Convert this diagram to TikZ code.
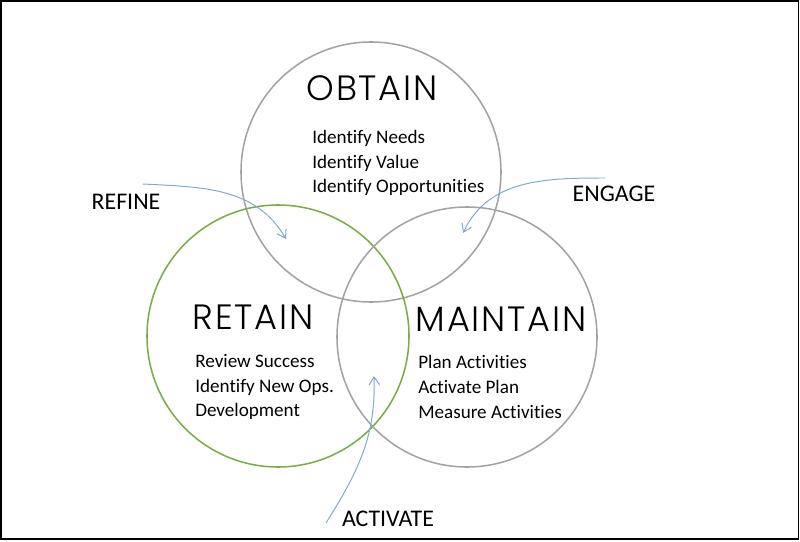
\documentclass[tikz,border=0pt]{standalone}
\usepackage{fontspec}
\setmainfont{Carlito}[Ligatures={NoCommon}]
\newfontfamily\ttlfont{Poppins}[UprightFont=* Light, LetterSpace=5]
\usepackage{tikz}
\usetikzlibrary{arrows.meta}
\definecolor{ringgray}{HTML}{A3A3A3}
\definecolor{ringgreen}{HTML}{79AD45}
\definecolor{flowblue}{HTML}{7FA8D8}

\begin{document}
\begin{tikzpicture}[
  ring/.style={draw=ringgray, line width=1.1pt},
  ttl/.style={font=\ttlfont\fontsize{25}{28}\selectfont, inner sep=0pt},
  items/.style={font=\fontsize{13.6}{17.7}\selectfont, align=left, anchor=west, inner sep=0pt},
  lbl/.style={font=\fontsize{17}{19}\selectfont, inner sep=0pt},
  flowarr/.style={-{Straight Barb[length=2mm,width=2.6mm]}, line width=0.7pt, color=flowblue},
]
\useasboundingbox (0,0) rectangle (20,13.525);
\draw[line width=1.2pt] (0.02,0.05) rectangle (19.96,13.5);
% the three rings
\draw[ring] (9.275,9.225) circle (3.25);
\draw[ring,draw=ringgreen] (6.95,5.125) circle (3.275);
\draw[ring] (11.675,5.1) circle (3.25);
% titles
\node[ttl] (obtain) at (9.3,11.325) {OBTAIN};
\node[ttl] (retain) at (6.325,5.6) {RETAIN};
\node[ttl] (maintain) at (12.525,5.55) {MAINTAIN};
% lists
\node[items] (oblist) at (7.8,9.45) {Identify Needs\\Identify Value\\Identify Opportunities};
\node[items] (relist) at (4.875,3.85) {Review Success\\Identify New Ops.\\Development};
\node[items] (malist) at (10.45,3.85) {Plan Activities\\Activate Plan\\Measure Activities};
% outer labels
\node[lbl] (refine) at (3.15,8.475) {REFINE};
\node[lbl] (engage) at (15.35,8.675) {ENGAGE};
\node[lbl] (activate) at (9.7,0.55) {ACTIVATE};
% arrows
\coordinate (rfs) at (3.575,8.925);
\coordinate (rfe) at (7.15,7.55);
\coordinate (ens) at (15.125,9.075);
\coordinate (ene) at (11.575,7.7);
\coordinate (acs) at (8.15,0.45);
\coordinate (ace) at (9.35,4.125);
\draw[flowarr] (rfs) to[out=-3,in=120] (rfe);
\draw[flowarr] (ens) to[out=180,in=65] (ene);
\draw[flowarr] (acs) to[out=58,in=-88] (ace);
\end{tikzpicture}
\end{document}
